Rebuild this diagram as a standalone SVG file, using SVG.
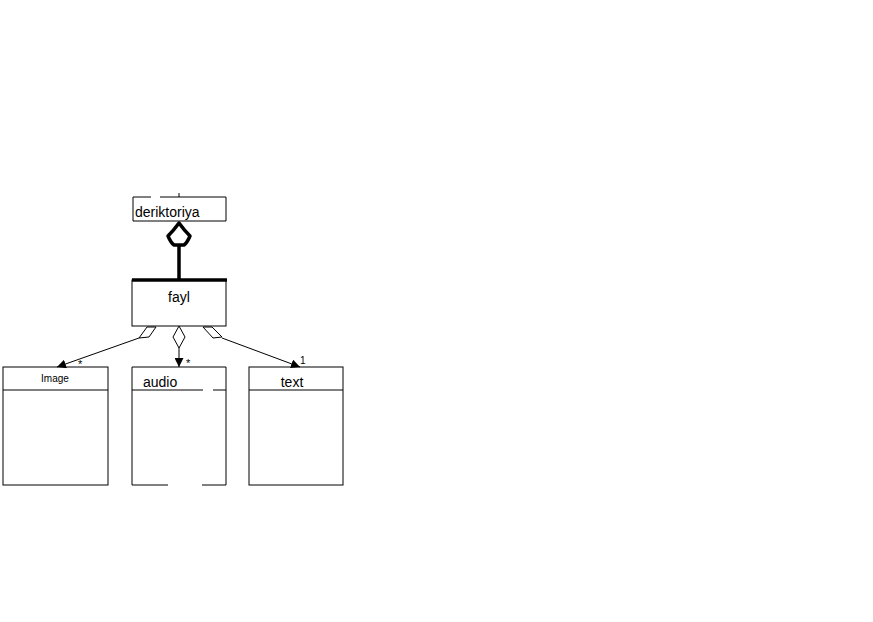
<svg xmlns="http://www.w3.org/2000/svg" width="873" height="622" viewBox="0 0 873 622">
<defs>
<style>
.box{fill:#fff;stroke:#000;stroke-width:1}
.ln{fill:none;stroke:#000;stroke-width:1}
.t{font-family:"Liberation Sans",Arial,sans-serif;fill:#000}
</style>
<marker id="arr" viewBox="0 0 10 10" refX="10" refY="5" markerWidth="9" markerHeight="9" markerUnits="userSpaceOnUse" orient="auto">
<path d="M0,0 L10,5 L0,10 Z" fill="#000"/>
</marker>
</defs>
<rect width="873" height="622" fill="#fff"/>
<g id="deriktoriya">
<path class="ln" d="M151,197 L133,197 L133,221 L226,221 L226,197 L160,197"/>
<line class="ln" x1="179" y1="193" x2="179" y2="197"/>
<text class="t" x="135" y="217" font-size="14">deriktoriya</text>
</g>
<g id="fayl">
<rect class="box" x="132" y="280" width="94" height="46"/>
<line x1="132" y1="280" x2="227" y2="280" stroke="#000" stroke-width="3.5"/>
<text class="t" x="179" y="302" font-size="14" text-anchor="middle">fayl</text>
</g>
<g id="image">
<rect class="box" x="3" y="367" width="105" height="118"/>
<line class="ln" x1="3" y1="390" x2="108" y2="390"/>
<text class="t" x="55" y="382" font-size="10" text-anchor="middle">Image</text>
</g>
<g id="audio">
<path class="ln" d="M168,485 L132,485 L132,367 L226,367 L226,485 L202,485"/>
<line class="ln" x1="132" y1="390" x2="203" y2="390"/>
<line class="ln" x1="213" y1="390" x2="226" y2="390"/>
<text class="t" x="143" y="387" font-size="14">audio</text>
</g>
<g id="text">
<rect class="box" x="249" y="367" width="94" height="118"/>
<line class="ln" x1="249" y1="390" x2="343" y2="390"/>
<text class="t" x="292" y="387" font-size="14" text-anchor="middle">text</text>
</g>
<g id="connectors">
<path d="M179,223 Q184,230 190,236 Q187,243 184,245 L174,245 Q171,243 168,236 Q174,230 179,223 Z" fill="#fff" stroke="#000" stroke-width="3.5" stroke-linejoin="round"/>
<line x1="179" y1="245" x2="179" y2="280" stroke="#000" stroke-width="3.5"/>
<polygon class="box" points="147,327 156,327 149,337 139,338"/>
<line class="ln" x1="139" y1="338" x2="57" y2="367" marker-end="url(#arr)"/>
<polygon class="box" points="179,326 185,337 179,348 173,337"/>
<line class="ln" x1="179" y1="348" x2="179" y2="367" marker-end="url(#arr)"/>
<polygon class="box" points="203,327 212,327 222,337 213,338"/>
<line class="ln" x1="222" y1="338" x2="300" y2="367" marker-end="url(#arr)"/>
<text class="t" x="78" y="368" font-size="11">*</text>
<text class="t" x="186" y="367" font-size="11">*</text>
<text class="t" x="300" y="364" font-size="10">1</text>
</g>
</svg>
